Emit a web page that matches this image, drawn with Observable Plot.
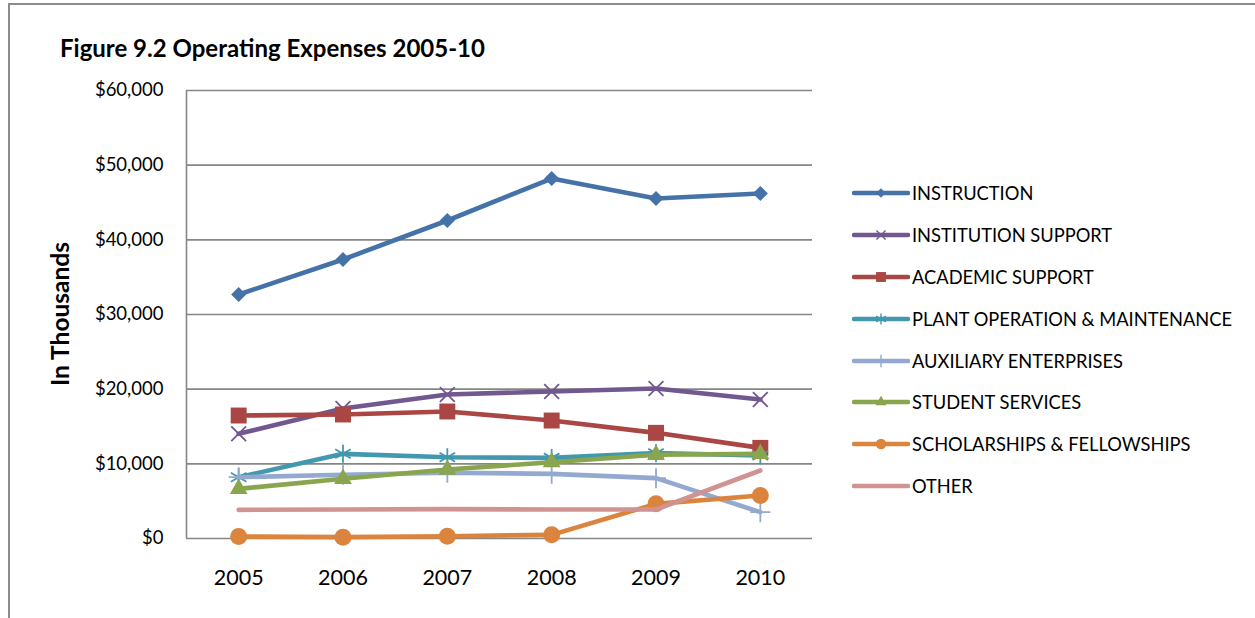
<!DOCTYPE html>
<html>
<head>
<meta charset="utf-8">
<script src="https://cdn.jsdelivr.net/npm/d3@7"></script>
<script src="https://cdn.jsdelivr.net/npm/@observablehq/plot@0.6"></script>
<style>
  html, body { margin: 0; padding: 0; background: #fff; }
  #chart { position: relative; width: 1255px; height: 618px; overflow: hidden; font-family: Lato, "Open Sans", sans-serif; color: #000; }
  #box { position: absolute; left: 8px; top: 3px; width: 1300px; height: 700px; border-left: 2px solid #8c8c8c; border-top: 2px solid #8c8c8c; box-sizing: border-box; }
  #plot { position: absolute; left: 0; top: 0; }
  #title { position: absolute; left: 60px; top: 33px; font-size: 24px; font-weight: 700; white-space: nowrap; }
  #ylabel { position: absolute; left: 59px; top: 314px; font-size: 24.5px; font-weight: 700; white-space: nowrap; transform: translate(-50%, -50%) rotate(-90deg); }
  #legend { position: absolute; left: 852px; top: 172px; }
  .item { display: flex; align-items: center; height: 41.9px; font-size: 18.3px; white-space: nowrap; }
  .item svg { margin-right: 2px; }
</style>
</head>
<body>
<div id="chart">
  <div id="box"></div>
  <div id="plot"></div>
  <div id="title">Figure 9.2 Operating Expenses 2005-10</div>
  <div id="ylabel">In Thousands</div>
  <div id="legend"></div>
</div>
<script>
// Fiscal years and operating expenses by function (in thousands of dollars)
const years = [2005, 2006, 2007, 2008, 2009, 2010];
const instruction        = [32680, 37370, 42590, 48210, 45540, 46210];
const institutionSupport = [14020, 17410, 19290, 19690, 20090, 18620];
const academicSupport    = [16470, 16610, 17010, 15800, 14150, 12140];
const plantOperation     = [8210, 11340, 10890, 10800, 11430, 11120];
const auxiliary          = [8210, 8530, 8800, 8660, 8080, 3530];
const studentServices    = [6650, 8000, 9240, 10220, 11210, 11340];
const scholarships       = [270, 180, 310, 490, 4640, 5760];
const other              = [3840, 3880, 3930, 3880, 3880, 9110];
const yTicks = [0, 10000, 20000, 30000, 40000, 50000, 60000];

const series = [
  {name: "INSTRUCTION", values: instruction, color: "#4572A7", symbol: "square", r: 6, rotate: 45, fill: true},
  {name: "INSTITUTION SUPPORT", values: institutionSupport, color: "#71588F", symbol: "times", r: 6.8, fill: false},
  {name: "ACADEMIC SUPPORT", values: academicSupport, color: "#AA4643", symbol: "square", r: 9, fill: true},
  {name: "PLANT OPERATION & MAINTENANCE", values: plantOperation, color: "#4198AF", symbol: "asterisk", r: 8.5, fill: false},
  {name: "AUXILIARY ENTERPRISES", values: auxiliary, color: "#93A9CF", symbol: "plus", r: 6.5, fill: false},
  {name: "STUDENT SERVICES", values: studentServices, color: "#89A54E", symbol: "triangle", r: 6.6, fill: true},
  {name: "SCHOLARSHIPS & FELLOWSHIPS", values: scholarships, color: "#DB843D", symbol: "circle", r: 8.5, fill: true},
  {name: "OTHER", values: other, color: "#D19392", symbol: null}
];

// Gridlines and the left axis line, then each series' line with its markers on top
const marks = [
  Plot.ruleY(yTicks, {stroke: "#868686", strokeWidth: 1.6}),
  Plot.ruleX([years[0] - 0.5], {stroke: "#868686", strokeWidth: 1.6})
];
for (const s of series) {
  const rows = years.map((year, i) => ({year, value: s.values[i]}));
  marks.push(Plot.line(rows, {x: "year", y: "value", stroke: s.color, strokeWidth: 4.6, strokeLinecap: "round", strokeLinejoin: "round"}));
  if (s.symbol) {
    marks.push(Plot.dot(rows, {
      x: "year", y: "value", symbol: s.symbol, r: s.r, rotate: s.rotate || 0,
      fill: s.fill ? s.color : "none", stroke: s.color, strokeWidth: s.fill ? 0 : 1.8
    }));
  }
}

const chart = Plot.plot({
  width: 830,
  height: 618,
  marginLeft: 186,
  marginRight: 18,
  marginTop: 90,
  marginBottom: 80,
  style: {fontFamily: "Lato, 'Open Sans', sans-serif", fontSize: "18.5px", color: "#000", background: "transparent", overflow: "visible"},
  x: {domain: [years[0] - 0.5, years[years.length - 1] + 0.5], ticks: years, tickFormat: d => String(d), tickSize: 0, tickPadding: 31, label: null},
  y: {domain: [0, 60000], ticks: yTicks, tickFormat: d => "$" + d3.format(",")(d), tickSize: 0, tickPadding: 23, label: null},
  marks
});
chart.querySelectorAll('[aria-label="x-axis tick label"]').forEach(g => g.setAttribute("font-size", "21.5px"));
document.getElementById("plot").appendChild(chart);

// Legend entries with line swatch and marker
const legend = d3.select("#legend");
for (const s of series) {
  const item = legend.append("div").attr("class", "item");
  const sw = item.append("svg").attr("width", 58).attr("height", 16);
  sw.append("line").attr("x1", 2).attr("x2", 56).attr("y1", 8).attr("y2", 8)
    .attr("stroke", s.color).attr("stroke-width", 4.6).attr("stroke-linecap", "round");
  if (s.symbol) {
    const sym = {square: d3.symbolSquare, times: d3.symbolTimes, asterisk: d3.symbolAsterisk, plus: d3.symbolPlus, triangle: d3.symbolTriangle, circle: d3.symbolCircle}[s.symbol];
    const size = Math.PI * (s.r * 0.62) ** 2;
    sw.append("path").attr("d", d3.symbol(sym, size)())
      .attr("transform", `translate(29,8) rotate(${s.rotate || 0})`)
      .attr("fill", s.fill ? s.color : "none").attr("stroke", s.color).attr("stroke-width", s.fill ? 0 : 1.4);
  }
  item.append("span").text(s.name);
}
</script>
</body>
</html>
